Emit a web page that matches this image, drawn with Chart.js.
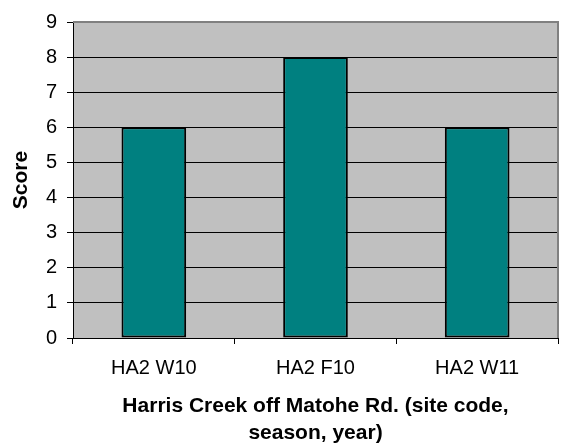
<!DOCTYPE html>
<html>
<head>
<meta charset="utf-8">
<script src="https://cdn.jsdelivr.net/npm/chart.js@4/dist/chart.umd.min.js"></script>
<style>
  html, body { margin: 0; padding: 0; background: #ffffff; }
  #wrap { width: 561px; height: 447px; position: relative; }
</style>
</head>
<body>
<div id="wrap"><canvas id="c" width="561" height="447"></canvas></div>
<script>
// Site/season codes and their scores
const categories = ['HA2 W10', 'HA2 F10', 'HA2 W11'];
const scores = [6, 8, 6];
const yTicks = [0, 1, 2, 3, 4, 5, 6, 7, 8, 9];
const xTitle = ['Harris Creek off Matohe Rd. (site code,', 'season, year)'];
const yTitle = 'Score';

const FONT = '"Liberation Sans", Arial, sans-serif';

// Grey plot background with a darker frame on the top and right edges
const plotFrame = {
  id: 'plotFrame',
  beforeDraw(chart) {
    const { ctx, chartArea: a } = chart;
    ctx.save();
    ctx.fillStyle = '#C0C0C0';
    ctx.fillRect(a.left, a.top, a.right - a.left, a.bottom - a.top);
    ctx.restore();
  },
  afterDraw(chart) {
    const { ctx, chartArea: a } = chart;
    ctx.save();
    ctx.strokeStyle = '#808080';
    ctx.lineWidth = 2;
    ctx.beginPath();
    ctx.moveTo(a.left, a.top);
    ctx.lineTo(a.right, a.top);
    ctx.lineTo(a.right, a.bottom);
    ctx.stroke();
    ctx.restore();
  }
};

new Chart(document.getElementById('c'), {
  type: 'bar',
  data: {
    labels: categories,
    datasets: [{
      data: scores,
      backgroundColor: '#008080',
      borderColor: '#000000',
      borderWidth: 2,
      borderSkipped: false,
      categoryPercentage: 1.0,
      barPercentage: 0.4
    }]
  },
  options: {
    responsive: false,
    animation: false,
    devicePixelRatio: 1,
    layout: { padding: { left: 0, top: 20, right: 3, bottom: 0 } },
    plugins: {
      legend: { display: false },
      tooltip: { enabled: false }
    },
    scales: {
      x: {
        offset: true,
        grid: {
          offset: true,
          drawOnChartArea: false,
          color: '#000000',
          tickColor: '#000000',
          tickLength: 6
        },
        border: { color: '#000000', width: 1 },
        ticks: {
          color: '#000000',
          padding: 12,
          maxRotation: 0,
          font: { family: FONT, size: 20 }
        },
        title: {
          display: true,
          text: xTitle,
          color: '#000000',
          padding: { top: 0, bottom: 0 },
          font: { family: FONT, size: 21, weight: 'bold', lineHeight: 1.3 }
        },
        afterFit(scale) { scale.height = 109; }
      },
      y: {
        min: 0,
        max: 9,
        afterBuildTicks(scale) { scale.ticks = yTicks.map(v => ({ value: v })); },
        grid: {
          color: '#000000',
          tickColor: '#000000',
          tickLength: 6,
          lineWidth: 1
        },
        border: { color: '#000000', width: 1 },
        ticks: {
          color: '#000000',
          padding: 10,
          font: { family: FONT, size: 20 }
        },
        title: {
          display: true,
          text: yTitle,
          color: '#000000',
          padding: { top: 9, bottom: 0 },
          font: { family: FONT, size: 21, weight: 'bold', lineHeight: 1.2 }
        },
        afterFit(scale) { scale.width = 73; }
      }
    }
  },
  plugins: [plotFrame]
});
</script>
</body>
</html>
